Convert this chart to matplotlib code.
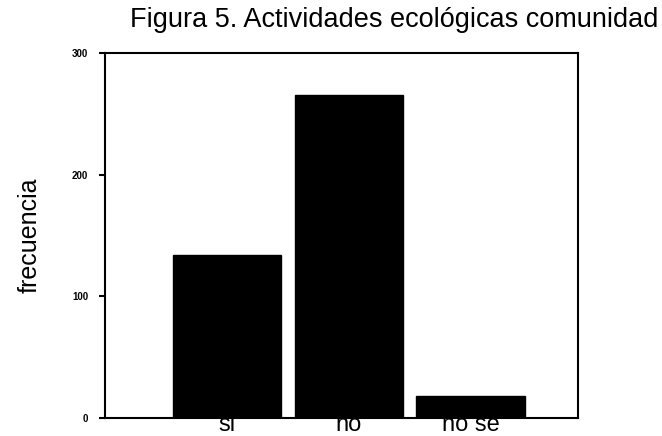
import matplotlib
matplotlib.use("Agg")
import matplotlib.pyplot as plt

plt.rcParams['font.family'] = ['Liberation Sans', 'DejaVu Sans']

categories = ["si", "no", "no se"]
values = [134, 266, 18]
yticks = [0, 100, 200, 300]

fig = plt.figure(figsize=(6.62, 4.36), dpi=100)
ax = fig.add_axes([0.1586, 0.0413, 0.7145, 0.8367])
x = list(range(len(categories)))
ax.bar(x, values, width=0.89, color="black", edgecolor="black")
ax.set_xlim(-1.0, 2.88)
ax.set_ylim(0, 300)
ax.set_yticks(yticks)
ax.set_yticklabels([str(t) for t in yticks], fontsize=7, fontweight="bold")
ax.set_xticks(x)
ax.set_xticklabels(categories, fontsize=17)
ax.tick_params(axis="x", length=0, pad=-3)
ax.tick_params(axis="y", length=4, width=1.5, direction="out", pad=8)
for s in ax.spines.values():
    s.set_linewidth(1.5)
ax.set_ylabel("frecuencia", fontsize=18, labelpad=22)
fig.text(0.595, 0.955, "Figura 5. Actividades ecológicas comunidad",
         ha="center", va="center", fontsize=19.5)
fig.savefig("out.png", dpi=100)
